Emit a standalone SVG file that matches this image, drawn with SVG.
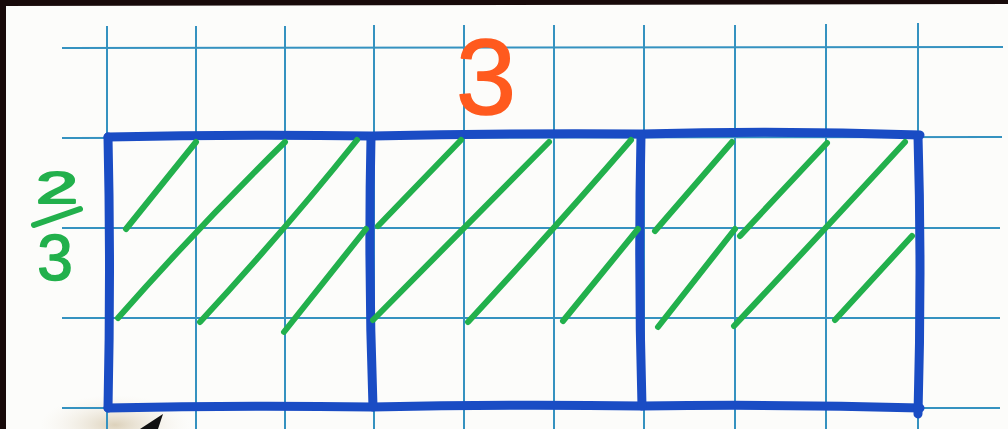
<svg xmlns="http://www.w3.org/2000/svg" width="1008" height="429" viewBox="0 0 1008 429">
<defs>
<style>
.grid{stroke:#3592c0;stroke-width:2;fill:none}
.frame{stroke:#1a4cc4;stroke-width:9;fill:none;stroke-linecap:round;stroke-linejoin:round}
.hatch{stroke:#22b04c;stroke-width:6;fill:none;stroke-linecap:round;stroke-linejoin:round}
.num{font-family:"Liberation Sans",Arial,sans-serif}
</style>
<radialGradient id="shadow" cx="0.5" cy="0.5" r="0.5">
<stop offset="0" stop-color="#d9cdb4" stop-opacity="0.9"/>
<stop offset="1" stop-color="#f4efe6" stop-opacity="0"/>
</radialGradient>
</defs>
<rect width="1008" height="429" fill="#fcfcfa"/>
<ellipse cx="115" cy="425" rx="75" ry="30" fill="url(#shadow)"/>
<polygon points="0,0 1008,0 1008,4 0,6" fill="#180a0a"/>
<polygon points="0,0 6,0 6,429 0,429" fill="#180a0a"/>
<g id="grid" class="grid">
<path d="M62,48 L1003,47 M62,138 L1002,137 M62,228 L1000,228 M62,318 L1000,318 M62,408 L1000,408"/>
<path d="M107,26 V429 M196,26 V429 M285,26 V429 M374,25 V429 M464,25 V429 M554,25 V429 M644,25 V429 M735,25 V429 M826,24 V429 M918,23 V429"/>
</g>
<g id="frame" class="frame">
<path d="M108,137 Q240,134 372,136 Q510,133 642,134 Q780,130 920,135"/>
<path d="M108,408 Q240,405 372,407 Q510,404 642,406 Q780,404 920,408"/>
<path d="M108,137 Q111,270 108,408"/>
<path d="M371,137 Q368,270 373,407"/>
<path d="M641,135 Q638,270 642,406"/>
<path d="M918,136 Q922,270 918,414"/>
</g>
<g id="hatching" class="hatch">
<path d="M126,229 L196,142"/>
<path d="M118,318 Q200,225 285,142"/>
<path d="M200,322 Q285,230 357,140"/>
<path d="M284,332 L366,229"/>
<path d="M378,226 L461,140"/>
<path d="M373,320 Q466,226 549,142"/>
<path d="M468,322 Q555,228 631,140"/>
<path d="M563,321 L638,229"/>
<path d="M655,231 L732,142"/>
<path d="M658,327 L735,229"/>
<path d="M740,236 L827,143"/>
<path d="M734,326 Q826,228 905,142"/>
<path d="M835,320 L912,236"/>
</g>
<g id="label-3">
<text class="num" x="486" y="114" font-size="108" text-anchor="middle" fill="#ff5a1e" stroke="#ff5a1e" stroke-width="1.5" stroke-linejoin="round">3</text>
</g>
<g id="label-fraction" fill="#22b04c" stroke="#22b04c">
<text class="num" x="36" y="203" font-size="44" textLength="42" lengthAdjust="spacingAndGlyphs" stroke-width="2" stroke-linejoin="round">2</text>
<path d="M34,225 L80,209" stroke-width="6" stroke-linecap="round"/>
<text class="num" x="55" y="280" font-size="64" text-anchor="middle" stroke-width="1.5" stroke-linejoin="round">3</text>
</g>
<polygon id="arrow-tip" points="140,429 163,414 158,429" fill="#111"/>
</svg>
